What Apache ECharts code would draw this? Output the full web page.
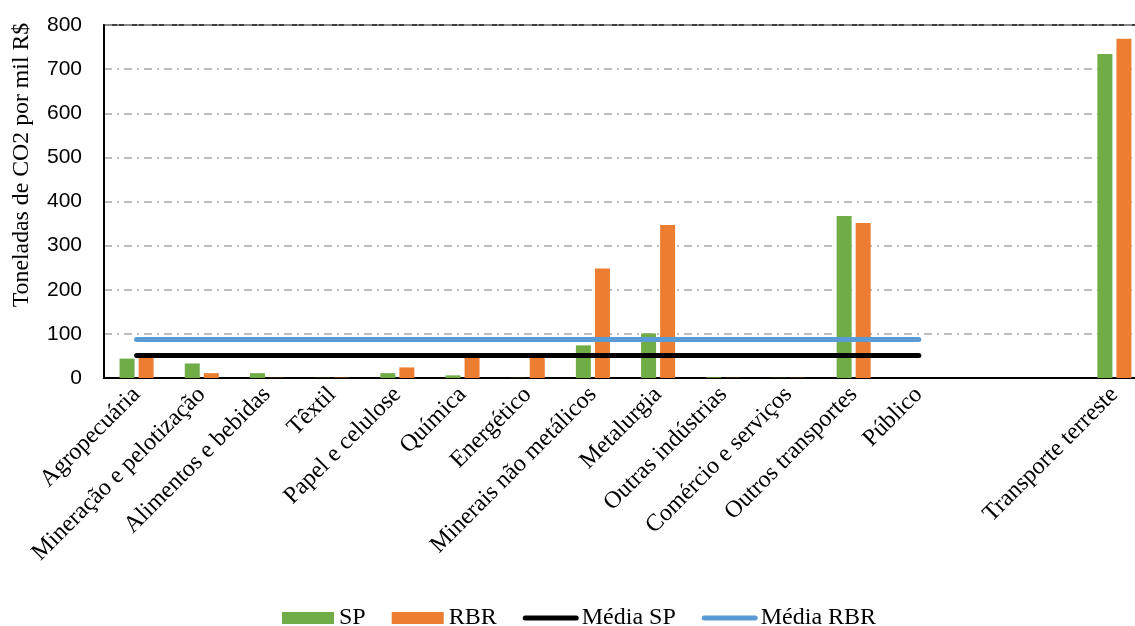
<!DOCTYPE html>
<html>
<head>
<meta charset="utf-8">
<script src="https://cdn.jsdelivr.net/npm/echarts@6/dist/echarts.min.js"></script>
<style>
  html, body { margin: 0; padding: 0; background: #fff; }
  #chart { width: 1135px; height: 626px; }
</style>
</head>
<body>
<div id="chart"></div>
<script>
// Sectors (two blank slots keep the gap before "Transporte terreste")
const categories = [
  'Agropecuária', 'Mineração e pelotização', 'Alimentos e bebidas', 'Têxtil',
  'Papel e celulose', 'Química', 'Energético', 'Minerais não metálicos',
  'Metalurgia', 'Outras indústrias', 'Comércio e serviços', 'Outros transportes',
  'Público', '', '', 'Transporte terreste'
];

// Tonnes of CO2 per thousand R$
const spValues  = [44, 33, 11, 0.4, 11, 6, 0.4, 74, 101, 1.5, 0.4, 367, 0, null, null, 734];
const rbrValues = [50, 11, 0.5, 0.8, 24, 50, 50, 248, 347, 0.5, 0.5, 351, 0, null, null, 769];

// Averages, drawn from the first to the last regular sector
const meanSP = 51;
const meanRBR = 87;
const meanSpan = ['Agropecuária', 'Público'];

const yTicks = { min: 0, max: 800, interval: 100 };

const serif = '"Liberation Serif", "DejaVu Serif", serif';
const sans = '"Liberation Sans", Arial, sans-serif';

// legend keys: filled block for the bars, thick rounded stroke for the averages
const barKey = 'path://M0,0 h52 v12 h-52 Z';
const lineKey = 'path://M2.5,0 h51 a2.5,2.5 0 0 1 0,5 h-51 a2.5,2.5 0 0 1 0,-5 Z';

const chart = echarts.init(document.getElementById('chart'), null, { renderer: 'canvas' });

chart.setOption({
  animation: false,
  backgroundColor: '#ffffff',
  grid: {
    left: 104, top: 25, bottom: 248, right: -12,
    outerBoundsMode: 'none',
    show: true, borderColor: '#000', borderWidth: 1.5
  },
  graphic: [{
    type: 'text',
    x: 22, y: 165,
    rotation: Math.PI / 2,
    style: {
      text: 'Toneladas de CO2 por mil R$',
      font: '23.8px ' + serif,
      fill: '#000',
      align: 'center',
      verticalAlign: 'middle'
    }
  }],
  legend: {
    left: 282, top: 606, padding: 0,
    itemWidth: 56, itemHeight: 12, itemGap: 26,
    textStyle: { fontFamily: serif, fontSize: 24, color: '#000', padding: [2, 0, 0, -2] },
    data: [
      { name: 'SP', icon: barKey },
      { name: 'RBR', icon: barKey },
      { name: 'Média SP', icon: lineKey },
      { name: 'Média RBR', icon: lineKey }
    ]
  },
  xAxis: {
    type: 'category',
    data: categories,
    axisLine: { show: true, lineStyle: { color: '#000', width: 2 } },
    axisTick: { show: false },
    axisLabel: {
      interval: 0, rotate: 45, margin: 13,
      fontFamily: serif, fontSize: 24, color: '#000'
    },
    splitLine: { show: false }
  },
  yAxis: {
    type: 'value',
    min: yTicks.min, max: yTicks.max, interval: yTicks.interval,
    axisLine: { show: true, lineStyle: { color: '#000', width: 2 } },
    axisTick: { show: false },
    axisLabel: { margin: 22, fontFamily: sans, fontSize: 21, color: '#000' },
    splitLine: { show: true, lineStyle: { color: '#A6A6A6', width: 1.5, type: [8, 5, 2, 5] } }
  },
  series: [
    {
      name: 'SP', type: 'bar', data: spValues,
      barWidth: 15, barGap: '27%',
      itemStyle: { color: '#70AD47' }
    },
    {
      name: 'RBR', type: 'bar', data: rbrValues,
      barWidth: 15, barGap: '27%',
      itemStyle: { color: '#ED7D31' }
    },
    {
      name: 'Média SP', type: 'line',
      data: meanSpan.map(c => [c, meanSP]),
      symbol: 'none', z: 5,
      itemStyle: { color: '#000' },
      lineStyle: { color: '#000', width: 5, cap: 'round' }
    },
    {
      name: 'Média RBR', type: 'line',
      data: meanSpan.map(c => [c, meanRBR]),
      symbol: 'none', z: 5,
      itemStyle: { color: '#5B9BD5' },
      lineStyle: { color: '#5B9BD5', width: 5, cap: 'round' }
    }
  ]
});
</script>
</body>
</html>
